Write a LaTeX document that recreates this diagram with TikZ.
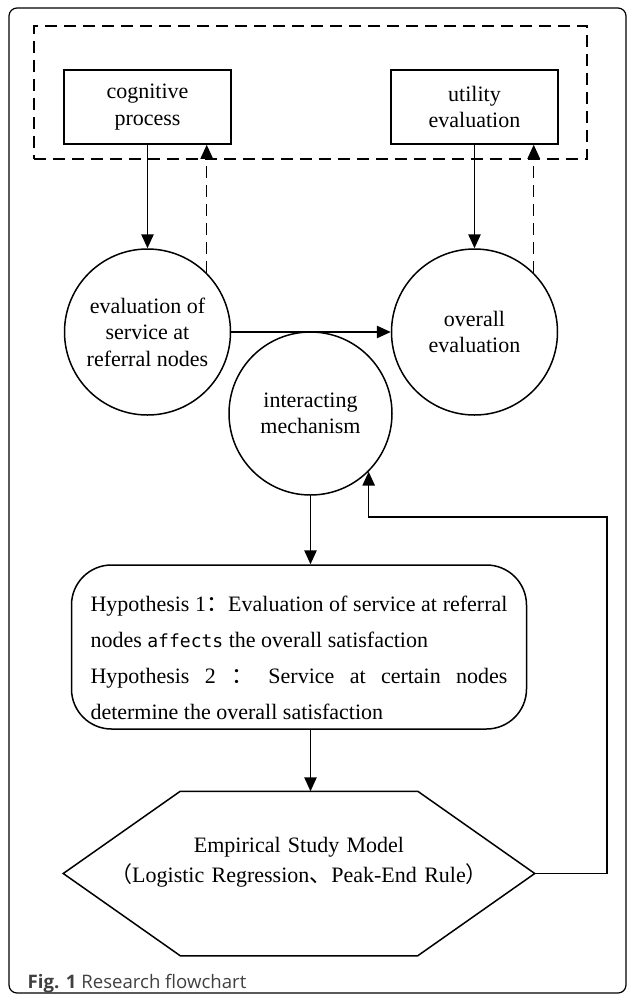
\documentclass[tikz,border=0pt]{standalone}
\usepackage{fontspec}
\setmainfont{Liberation Serif}
\setmonofont[Scale=0.82]{DejaVu Sans Mono}
\newfontfamily\cjk{Noto Sans CJK SC}
\newfontfamily\capfont{Open Sans}
\usetikzlibrary{positioning, arrows.meta}

\newcommand{\zh}[1]{{\cjk #1}}

\begin{document}
\begin{tikzpicture}[x=0.5pt, y=-0.5pt, on grid, line width=0.75pt,
  >={Triangle[length=7pt, width=6.2pt]},
  every node/.style={font=\fontsize{11}{13.3}\selectfont},
  dashline/.style={dash pattern=on 6pt off 3.5pt},
  box/.style={draw, rectangle, minimum width=83.5pt, minimum height=37pt, inner sep=0pt, align=center},
  bubble/.style={draw, circle, minimum size=83pt, inner sep=0pt, align=center},
  group/.style={draw, dashline, minimum width=276.5pt, minimum height=66.5pt},
  hypo/.style={draw, rounded corners=20pt, text width=208.5pt, align=justify, inner xsep=9.5pt, inner ysep=0pt,
    text height=23pt, text depth=59pt, font=\fontsize{11}{18}\selectfont},
  model/.style={text width=235pt, align=center, inner sep=0pt, text height=30pt, text depth=51.5pt,
    font=\fontsize{11}{15}\selectfont}]
  \useasboundingbox (0,0) rectangle (627,1002);
  \draw[line width=0.6pt, rounded corners=4pt] (9,8) rectangle (626,993);

  \node[group] (top) at (310.5,92.5) {};
  \node[box] (cog) at (147.5,107) {cognitive\\process};
  \node[box] (ut) [right=163.5pt of cog] {utility\\evaluation};
  \node[bubble] (ev) [below=112.5pt of cog] {evaluation of\\service at\\referral nodes};
  \node[bubble] (ov) [right=163.5pt of ev] {overall\\evaluation};
  \node[bubble, minimum size=81.5pt] (mech) [below right=40.75pt and 81.5pt of ev] {interacting\\mechanism};
  \node[hypo] (hyp) [below=116.75pt of mech, xshift=-5.75pt]
    {Hypothesis 1\zh{：}Evaluation of service at referral\linebreak
     nodes \texttt{affects} the overall satisfaction\\
     Hypothesis 2 \zh{：} Service at certain nodes\linebreak
     determine the overall satisfaction};
  \node[model] (emp) [below=113.25pt of hyp]
    {Empirical Study Model\\\zh{（}Logistic Regression\zh{、}Peak-End Rule\zh{）}};
  \draw (emp.west) -- ([xshift=58.5pt]emp.north west) -- ([xshift=-58.5pt]emp.north east)
    -- (emp.east) -- ([xshift=-58.5pt]emp.south east) -- ([xshift=58.5pt]emp.south west) -- cycle;
  \coordinate (back) at (607,517);

  \path[->]
  (cog) edge (ev)
  (ut) edge (ov)
  (ev) edge (ov)
  (mech.south) edge (mech.south |- hyp.north)
  (hyp.south -| mech.south) edge (emp.north -| mech.south);
  \path[->, dashline]
  (ev.north east) edge (ev.north east |- cog.south)
  (ov.north east) edge (ov.north east |- ut.south);
  \draw[->] (emp.east) -| (back) -| (mech.south east);

  \node[anchor=base west, inner sep=0pt, text=black!75, font=\capfont\fontsize{9.3}{11}\selectfont] (cap)
    at (27,988) {\textbf{Fig. 1} Research flowchart};
\end{tikzpicture}
\end{document}
